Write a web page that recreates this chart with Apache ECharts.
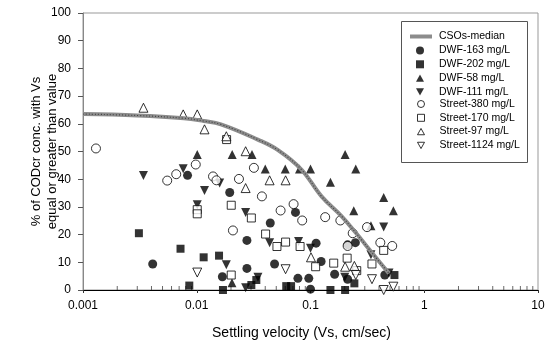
<!DOCTYPE html>
<html>
<head>
<meta charset="utf-8">
<script src="https://cdn.jsdelivr.net/npm/echarts@6/dist/echarts.min.js"></script>
<style>
  html, body { margin: 0; padding: 0; background: #fff; }
  #chart { width: 551px; height: 350px; }
</style>
</head>
<body>
<div id="chart"></div>
<script>
// tick labels of the log axis
const xTickLabels = ['0.001', '0.01', '0.1', '1', '10'];

// CSOs median curve [Vs, %]
const medianCurve = [[0.001, 63.5], [0.003, 63], [0.0077, 62], [0.0115, 61], [0.0163, 59.8],
  [0.0344, 54.3], [0.0518, 50.5], [0.0832, 43.5], [0.125, 33.8], [0.188, 26.6],
  [0.245, 21.1], [0.369, 12.1], [0.49, 6]];

const dwf163 = [[0.0041, 9.4], [0.0083, 41.4], [0.0168, 4.8], [0.0195, 35.2], [0.0276, 17.9],
  [0.0276, 7.8], [0.0443, 24.2], [0.0483, 9.4], [0.0738, 28], [0.0775, 4.2], [0.0966, 4.2],
  [0.1, 0.3], [0.112, 16.9], [0.124, 10.3], [0.163, 5.7], [0.212, 16.3], [0.212, 3.9],
  [0.248, 17.1], [0.45, 5.4]];

const dwf202 = [[0.0031, 20.5], [0.0072, 14.9], [0.0086, 1.6], [0.0115, 11.8], [0.0157, 12.4],
  [0.017, 0], [0.0302, 1.8], [0.0334, 3.6], [0.0612, 1.4], [0.0675, 1.4], [0.1497, 0],
  [0.2015, 0], [0.243, 2.4], [0.547, 5.4]];

const dwf58 = [[0.0101, 48.9], [0.0205, 48.9], [0.0306, 48.9], [0.04, 43.7], [0.06, 43.7],
  [0.08, 43.7], [0.1, 43.7], [0.1497, 38.9], [0.2015, 48.9], [0.24, 28.6], [0.25, 43.7],
  [0.34, 23.2], [0.44, 33.4], [0.535, 28.6], [0.0204, 2.6]];

const dwf111 = [[0.0034, 41.3], [0.0076, 43.8], [0.0101, 30.8], [0.0117, 35.9], [0.0159, 38.6],
  [0.0182, 9.1], [0.0269, 28], [0.0269, 0.8], [0.0345, 4.6], [0.0437, 17.1], [0.0785, 17.5],
  [0.1, 15.1], [0.2, 4.6], [0.34, 12.7], [0.44, 22.7], [0.49, 6.1]];

const street380 = [[0.0013, 51.1], [0.0055, 39.5], [0.0066, 41.8], [0.0098, 45.3], [0.0139, 41],
  [0.0149, 39.6], [0.0208, 21.5], [0.0235, 40.1], [0.0318, 44.1], [0.0374, 33.8], [0.0546, 28.7],
  [0.071, 31], [0.0845, 25.1], [0.1346, 26.3], [0.183, 25.1], [0.212, 15.9], [0.235, 20.5],
  [0.314, 22.7], [0.411, 17.1], [0.523, 15.9]];

const street170 = [[0.0101, 29], [0.0101, 27.5], [0.0183, 54.3], [0.0201, 30.6], [0.0201, 5.4],
  [0.0302, 26], [0.0403, 20.2], [0.0507, 15.7], [0.0604, 17.3], [0.081, 15.7], [0.111, 8.4],
  [0.16, 9.7], [0.21, 11.5], [0.255, 7], [0.347, 9.4], [0.44, 14.3]];

const street97 = [[0.0034, 65.8], [0.0076, 63.4], [0.0101, 63.4], [0.0117, 58], [0.0182, 55.5],
  [0.0269, 50.1], [0.0269, 36.8], [0.0437, 39.6], [0.0604, 39.6], [0.101, 11.8], [0.2015, 8.4],
  [0.243, 8.7]];

const street1124 = [[0.0101, 6.3], [0.0604, 7.5], [0.25, 5.4], [0.347, 3.9], [0.44, 0], [0.535, 1.2]];

// small upward ticks between decades
const minorTicks = [];
for (let e = -3; e < 1; e++) {
  for (let k = 2; k <= 9; k++) minorTicks.push([k * Math.pow(10, e), 0]);
}

const filled = { color: '#000' };
const hollow = { color: '#fff', borderColor: '#000', borderWidth: 1 };
const downTri = 'path://M0,0L10,0L5,9Z';
const upTri = 'path://M5,0L10,9L0,9Z';

const pts = (name, data, symbol, size, style, rot) => ({
  name: name,
  type: 'scatter',
  data: data,
  symbol: symbol,
  symbolSize: size,
  symbolRotate: rot || 0,
  itemStyle: style,
  clip: false,
  z: 3
});

// legend entry with a fixed icon and style
const key = (name, icon, style) => ({ name: name, icon: icon, itemStyle: style });

const chart = echarts.init(document.getElementById('chart'));
const option = {
  animation: false,
  textStyle: { fontFamily: 'Liberation Sans, Arial, sans-serif' },
  grid: { left: 83, right: 13, top: 13, bottom: 60, show: true, borderColor: '#999', borderWidth: 1 },
  graphic: [{
    type: 'rect',
    left: 401,
    top: 21,
    shape: { width: 126, height: 141 },
    style: { fill: '#fff', stroke: '#555', lineWidth: 1 },
    z: 10
  }],
  legend: [
    { // line entry
      data: [{ name: 'CSOs-median', icon: 'rect' }],
      orient: 'vertical',
      left: 410,
      top: 31,
      padding: 0,
      itemWidth: 22,
      itemHeight: 4,
      textStyle: { fontSize: 10.5, color: '#000', padding: [0, 0, 0, 2] },
      z: 20
    },
    { // filled markers
      data: [
        key('DWF-163 mg/L', 'circle', filled),
        key('DWF-202 mg/L', 'rect', filled),
        key('DWF-58 mg/L', upTri, filled),
        key('DWF-111 mg/L', downTri, filled)
      ],
      orient: 'vertical',
      left: 416,
      top: 45,
      padding: 0,
      itemWidth: 8,
      itemHeight: 8,
      itemGap: 2.8,
      textStyle: { fontSize: 10.5, color: '#000', padding: [0, 0, 0, 10] },
      z: 20
    },
    { // hollow markers
      data: [
        key('Street-380 mg/L', 'circle', hollow),
        key('Street-170 mg/L', 'rect', hollow),
        key('Street-97 mg/L', upTri, hollow),
        key('Street-1124 mg/L', downTri, hollow)
      ],
      orient: 'vertical',
      left: 417,
      top: 98.5,
      padding: 0,
      itemWidth: 7,
      itemHeight: 7,
      itemGap: 2.8,
      textStyle: { fontSize: 10.5, color: '#000', padding: [0, 0, 0, 10] },
      z: 20
    }
  ],
  xAxis: {
    type: 'log',
    logBase: 10,
    min: 0.001,
    max: 10,
    name: 'Settling velocity (Vs, cm/sec)',
    nameLocation: 'middle',
    nameGap: 36,
    nameTextStyle: { fontSize: 14, color: '#000', padding: [0, 18, 0, 0] },
    axisLine: { lineStyle: { color: '#000', width: 1 } },
    axisTick: { length: 3, lineStyle: { color: '#333' } },
    axisLabel: {
      fontSize: 12, color: '#000', margin: 10,
      formatter: v => xTickLabels[Math.round(Math.log10(v)) + 3]
    },
    splitLine: { show: false }
  },
  yAxis: {
    type: 'value',
    min: 0,
    max: 100,
    interval: 10,
    name: '% of CODcr conc. with Vs\nequal or greater than value',
    nameLocation: 'middle',
    nameGap: 23,
    nameMoveOverlap: false,
    nameTextStyle: { fontSize: 13, color: '#000', lineHeight: 16 },
    axisLine: { show: true, lineStyle: { color: '#888', width: 1 } },
    axisTick: { length: 5, lineStyle: { color: '#555' } },
    axisLabel: { fontSize: 12, color: '#000', margin: 12 },
    splitLine: { show: false }
  },
  series: [
    {
      name: 'CSOs-median',
      type: 'line',
      data: medianCurve,
      smooth: 0.4,
      showSymbol: false,
      symbol: 'none',
      lineStyle: { color: '#8c8c8c', width: 4 },
      itemStyle: { color: '#8c8c8c' },
      z: 4
    },
    {
      name: 'median-texture',
      type: 'line',
      data: medianCurve,
      smooth: 0.4,
      showSymbol: false,
      symbol: 'none',
      lineStyle: { color: '#444', width: 1.2, type: [1, 2] },
      silent: true,
      z: 5
    },
    pts('DWF-163 mg/L', dwf163, 'circle', 9, filled),
    pts('DWF-202 mg/L', dwf202, 'rect', 8, filled),
    pts('DWF-58 mg/L', dwf58, 'triangle', 9, filled),
    pts('DWF-111 mg/L', dwf111, 'triangle', 9, filled, 180),
    pts('Street-380 mg/L', street380, 'circle', 9, hollow),
    pts('Street-170 mg/L', street170, 'rect', 8, hollow),
    pts('Street-97 mg/L', street97, 'triangle', 9, hollow),
    pts('Street-1124 mg/L', street1124, 'triangle', 9, hollow, 180),
    {
      name: 'minor',
      type: 'scatter',
      data: minorTicks,
      symbol: 'rect',
      symbolSize: [1, 4],
      symbolOffset: [0, -2],
      itemStyle: { color: '#444' },
      silent: true,
      clip: false,
      z: 2
    }
  ]
};
option && chart.setOption(option);
</script>
</body>
</html>
